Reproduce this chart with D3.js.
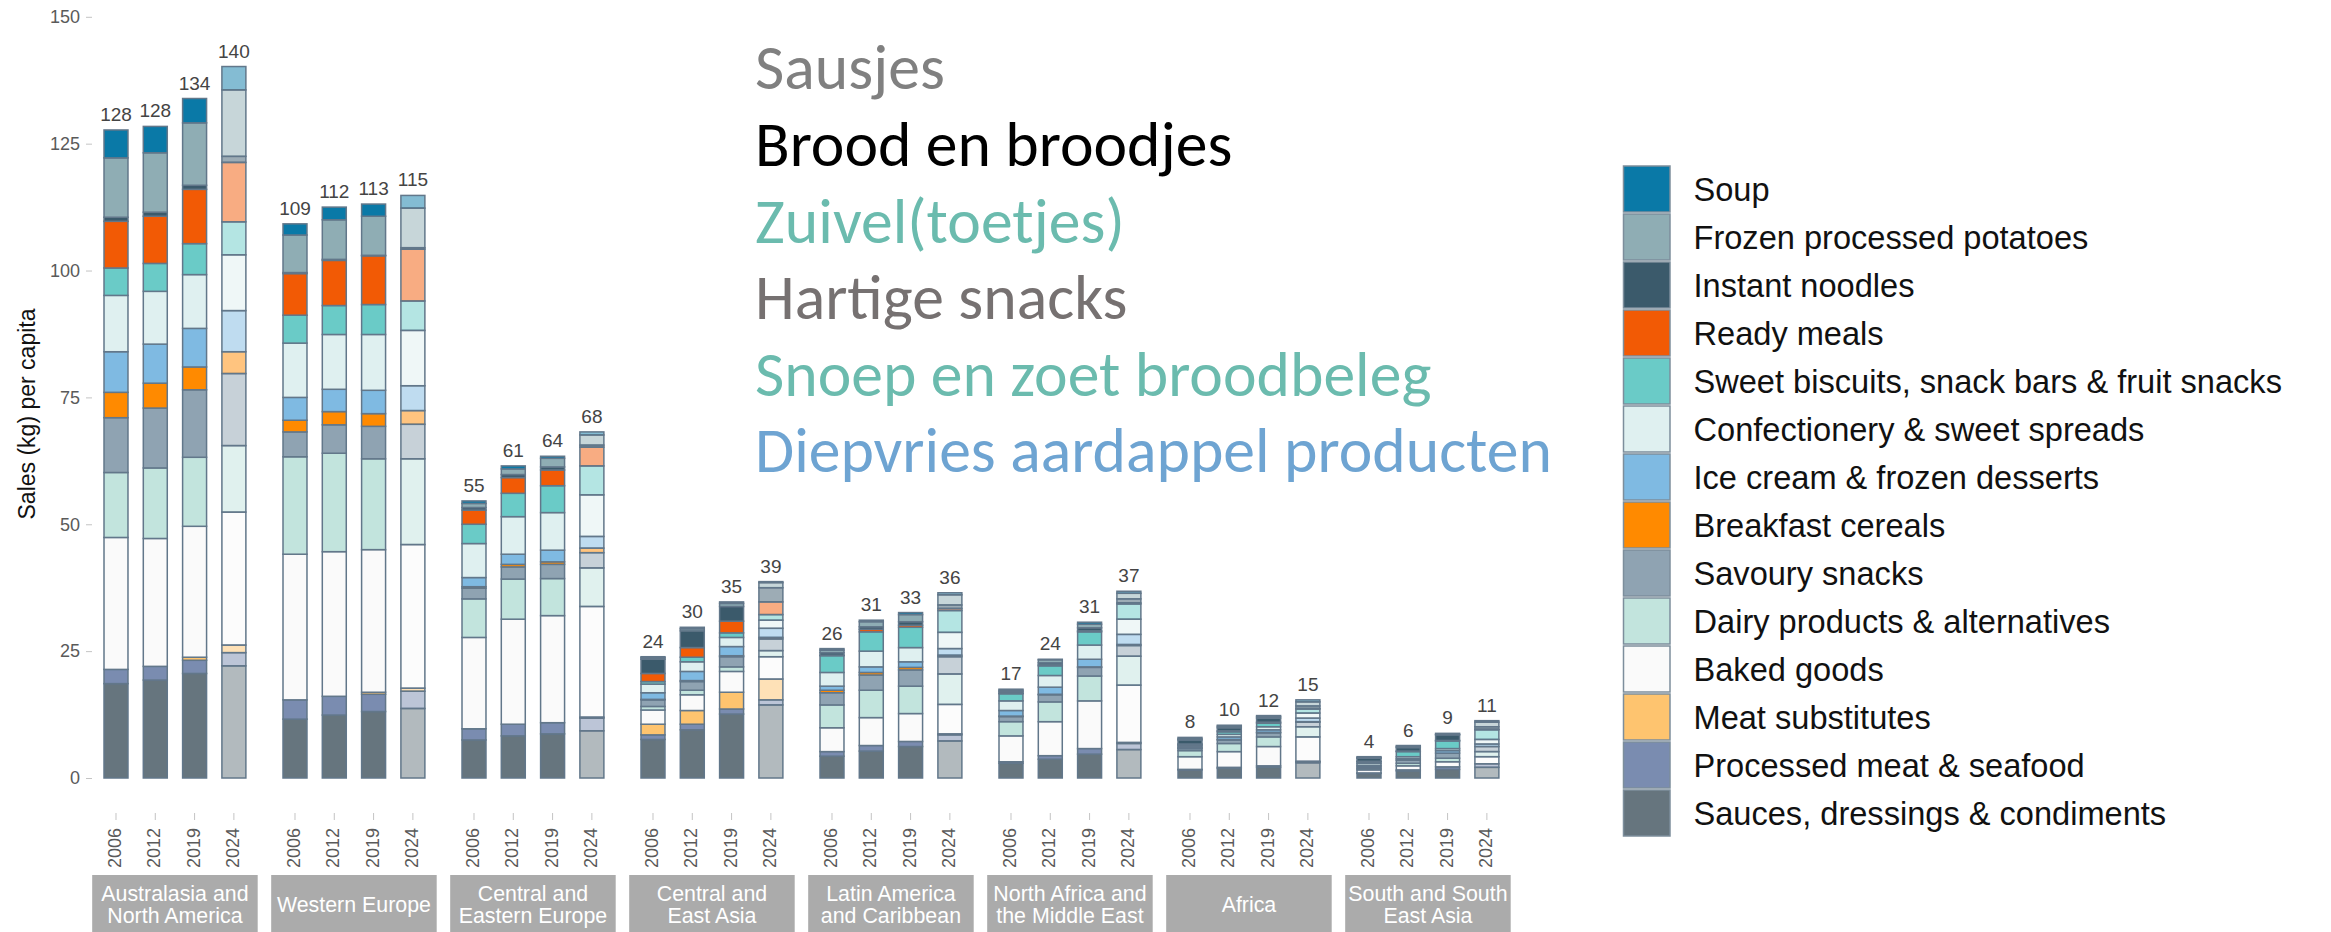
<!DOCTYPE html>
<html><head><meta charset="utf-8">
<script src="https://cdn.jsdelivr.net/npm/d3@7"></script>
<style>body{margin:0;background:#fff;} svg{display:block}</style>
</head><body><svg id="chart" width="2331" height="932"></svg>
<script>
// ---------------- DATA ----------------
const regions = ["Australasia and\nNorth America", "Western Europe", "Central and\nEastern Europe", "Central and\nEast Asia", "Latin America\nand Caribbean", "North Africa and\nthe Middle East", "Africa", "South and South\nEast Asia"];
const years = ["2006", "2012", "2019", "2024"];
const categories = ["Sauces, dressings & condiments", "Processed meat & seafood", "Meat substitutes", "Baked goods", "Dairy products & alternatives", "Savoury snacks", "Breakfast cereals", "Ice cream & frozen desserts", "Confectionery & sweet spreads", "Sweet biscuits, snack bars & fruit snacks", "Ready meals", "Instant noodles", "Frozen processed potatoes", "Soup"];
const categoryColors = ["#66757e", "#7a8cb0", "#fec46f", "#fafafa", "#c2e4dd", "#8fa3b2", "#ff8a00", "#7fbae2", "#dff0f0", "#6acbc7", "#f25a05", "#3b5a6b", "#8fadb4", "#0a79a7"];
// values per bar: regions in order, 4 years each (kg per capita)
const sauces        = [18.6,19.3,20.6,22.1, 11.6,12.4,13.1,13.7, 7.5,8.3,8.7,9.3, 7.6,9.5,12.6,14.4, 4.3,5.3,6.2,7.3, 2.9,3.7,4.7,5.6, 1.6,1.9,2.1,3.0, 0.9,1.4,1.7,2.1];
const processedMeat = [2.8,2.7,2.6,2.6, 3.8,3.7,3.4,3.4, 2.2,2.3,2.2,2.5, 0.9,1.1,1.0,1.0, 0.9,1.1,1.0,1.2, 0.3,0.7,1.1,1.2, 0.1,0.2,0.3,0.2, 0.1,0.2,0.5,0.7];
const meatSubstitutes = [0,0,0.6,1.5, 0,0,0.4,0.6, 0,0,0,0.2, 2.1,2.7,3.3,4.1, 0,0,0,0.2, 0,0,0,0.2, 0,0,0,0.1, 0,0,0,0];
const bakedGoods    = [26.0,25.2,25.8,26.2, 28.7,28.5,28.1,28.3, 18.0,20.7,21.1,21.8, 2.8,3.1,4.1,4.4, 4.7,5.5,5.5,5.8, 5.1,6.7,9.4,11.3, 2.5,3.1,3.8,4.8, 0.6,0.8,1.0,1.4];
const dairy         = [12.8,13.9,13.6,13.1, 19.2,19.4,17.9,16.9, 7.6,7.9,7.3,7.6, 0.7,0.9,0.9,1.2, 4.5,5.4,5.4,6.0, 2.8,3.9,4.9,5.7, 1.2,1.6,1.9,2.0, 0.3,0.5,0.7,1.0];
const savourySnacks = [10.8,11.8,13.3,14.2, 4.9,5.6,6.4,6.8, 2.1,2.4,2.8,3.0, 1.3,1.7,2.0,2.3, 2.4,3.0,3.2,3.4, 1.0,1.4,1.7,2.1, 0.4,0.7,0.8,0.9, 0.3,0.6,1.0,1.0];
const breakfastCereals = [5.0,4.9,4.5,4.3, 2.3,2.6,2.5,2.7, 0.3,0.5,0.5,0.9, 0.1,0.2,0.2,0.3, 0.5,0.5,0.5,0.3, 0.1,0.1,0.1,0.2, 0.1,0.1,0.1,0.1, 0,0,0,0];
const iceCream      = [8.0,7.7,7.6,8.1, 4.5,4.4,4.6,4.9, 1.8,2.0,2.3,2.3, 1.3,1.8,1.8,1.8, 0.8,1.1,1.1,1.3, 1.1,1.4,1.5,2.0, 0.2,0.5,0.5,0.7, 0.3,0.3,0.5,0.5];
const confectionery = [11.1,10.4,10.6,11.0, 10.7,10.8,11.0,10.9, 6.7,7.4,7.4,8.2, 1.7,1.9,1.8,1.6, 2.7,3.1,2.8,3.2, 1.9,2.3,2.8,3.0, 0.3,0.5,0.6,1.0, 0.4,0.4,0.4,0.9];
const sweetBiscuits = [5.4,5.5,6.1,6.5, 5.5,5.7,5.9,5.8, 3.8,4.6,5.3,5.7, 0.5,0.9,0.9,1.1, 3.3,3.8,4.0,4.3, 1.4,1.9,2.6,3.0, 0.2,0.5,0.7,0.8, 0.3,1.0,1.5,1.9];
const readyMeals    = [9.2,9.3,10.7,11.7, 8.2,8.9,9.6,10.2, 2.8,3.1,3.1,3.7, 1.6,1.9,2.3,2.5, 0.1,0.5,0.4,0.4, 0.1,0.2,0.2,0.2, 0.1,0.2,0.2,0.1, 0.1,0.1,0.1,0.1];
const instantNoodles = [0.8,0.8,0.8,1.2, 0.2,0.2,0.1,0.3, 0.5,0.6,0.6,0.4, 2.8,3.3,2.9,2.8, 0.5,0.5,0.7,0.7, 0.3,0.4,0.6,0.8, 0.8,0.6,0.8,0.5, 0.6,0.7,1.1,0.5];
const frozenPotatoes = [11.7,11.7,12.3,13.1, 7.4,7.8,7.7,7.8, 0.8,1.1,1.7,2.0, 0.3,0.4,0.6,1.0, 0.5,1.0,1.4,2.0, 0.3,0.6,0.7,1.1, 0.2,0.3,0.3,0.8, 0.1,0.2,0.1,0.9];
const soup          = [5.5,5.2,4.8,4.6, 2.2,2.5,2.4,2.5, 0.5,0.6,0.4,0.6, 0.2,0.3,0.3,0.2, 0.3,0.3,0.4,0.4, 0.2,0.1,0.4,0.4, 0.3,0.2,0.2,0.4, 0.2,0.2,0.2,0.3];
const totalLabels   = [128,128,134,140, 109,112,113,115, 55,61,64,68, 24,30,35,39, 26,31,33,36, 17,24,31,37, 8,10,12,15, 4,6,9,11];
const yTicks = [0, 25, 50, 75, 100, 125, 150];
const headlineLines = ["Sausjes", "Brood en broodjes", "Zuivel(toetjes)", "Hartige snacks", "Snoep en zoet broodbeleg", "Diepvries aardappel producten"];
const headlineColors = ["#808080", "#000000", "#6bbbae", "#767171", "#6bbbae", "#6ea4d2"];

const seriesArrays = [sauces, processedMeat, meatSubstitutes, bakedGoods, dairy, savourySnacks, breakfastCereals, iceCream, confectionery, sweetBiscuits, readyMeals, instantNoodles, frozenPotatoes, soup];

// --------------- TABLE ----------------
const rows = [];
regions.forEach((r, ri) => years.forEach((yr, yi) => {
  const i = ri * years.length + yi;
  const row = { region: r, year: yr, idx: i, total: totalLabels[i] };
  categories.forEach((c, ci) => row[c] = seriesArrays[ci][i]);
  rows.push(row);
}));

const svg = d3.select("#chart");
const FONT = "'Liberation Sans', Arial, Helvetica, sans-serif";

// --------------- SCALES ----------------
const y = d3.scaleLinear().domain([0, 150]).range([778, 16.8]);
const xOuter = d3.scaleBand().domain(regions).range([85.44, 85.44 + 8 * 179]).paddingInner(0.1218).paddingOuter(0.0609);
const xInner = d3.scaleBand().domain(years).range([0, xOuter.bandwidth()]).paddingInner(0.39).paddingOuter(0.195);
const color = d3.scaleOrdinal().domain(categories).range(categoryColors);

// --------------- Y AXIS ----------------
const yAxis = svg.append("g").attr("transform", "translate(92,0)")
  .call(d3.axisLeft(y).tickValues(yTicks).tickSize(6).tickPadding(6));
yAxis.select(".domain").remove();
yAxis.selectAll(".tick line").attr("stroke", "#c4c4c4");
yAxis.selectAll(".tick text").attr("fill", "#5a5a5a").style("font-family", FONT).style("font-size", "18px");

svg.append("text").attr("transform", "translate(35,414) rotate(-90)")
  .attr("text-anchor", "middle").style("font-family", FONT).style("font-size", "23px").attr("fill", "#111")
  .text("Sales (kg) per capita");

// --------------- BARS ----------------
const stack = d3.stack().keys(categories);
const stacked = stack(rows);
const barG = svg.append("g");
stacked.forEach(layer => {
  barG.selectAll(null).data(layer).join("rect")
    .attr("x", d => xOuter(d.data.region) + xInner(d.data.year))
    .attr("width", xInner.bandwidth())
    .attr("y", d => y(d[1]))
    .attr("height", d => Math.max(0, y(d[0]) - y(d[1])))
    .attr("fill", color(layer.key))
    .attr("fill-opacity", d => d.data.year === "2024" ? 0.5 : 1)
    .attr("stroke", "#62778a")
    .attr("stroke-width", 1.5)
    .attr("display", d => (d[1] - d[0]) > 0 ? null : "none");
});

// totals
svg.append("g").selectAll("text").data(rows).join("text")
  .attr("x", d => xOuter(d.region) + xInner(d.year) + xInner.bandwidth() / 2)
  .attr("y", d => y(d3.sum(categories, c => d[c])) - 9)
  .attr("text-anchor", "middle").style("font-family", FONT).style("font-size", "19px").attr("fill", "#444")
  .text(d => d.total);

// --------------- X AXIS (years) ----------------
const xa = svg.append("g");
xa.selectAll("line").data(rows).join("line")
  .attr("x1", d => xOuter(d.region) + xInner(d.year) + xInner.bandwidth() / 2)
  .attr("x2", d => xOuter(d.region) + xInner(d.year) + xInner.bandwidth() / 2)
  .attr("y1", 813).attr("y2", 820).attr("stroke", "#c4c4c4");
xa.selectAll("text").data(rows).join("text")
  .attr("transform", d => `translate(${xOuter(d.region) + xInner(d.year) + xInner.bandwidth() / 2 + 5},828) rotate(-90)`)
  .attr("text-anchor", "end").style("font-family", FONT).style("font-size", "18px").attr("fill", "#5a5a5a")
  .text(d => d.year);

// region strips
const strips = svg.append("g").selectAll("g").data(regions).join("g")
  .attr("transform", d => `translate(${xOuter(d) + xOuter.bandwidth() / 2},0)`);
strips.append("rect").attr("x", -82.75).attr("y", 875).attr("width", 165.5).attr("height", 57).attr("fill", "#ababab");
strips.each(function(d) {
  const lines = d.split("\n");
  const t = d3.select(this).append("text").attr("text-anchor", "middle").attr("fill", "#fff")
    .attr("transform", "scale(0.95,1)")
    .style("font-family", FONT).style("font-size", "22.5px");
  const cy = 904, lh = 22.5;
  lines.forEach((ln, i) => {
    t.append("tspan").attr("x", 0).attr("y", cy + (i - (lines.length - 1) / 2) * lh + 8).text(ln);
  });
});

// --------------- LEGEND ----------------
const legendOrder = categories.slice().reverse();
const lg = svg.append("g").selectAll("g").data(legendOrder).join("g")
  .attr("transform", (d, i) => `translate(1623.5,${166 + i * 48})`);
lg.append("rect").attr("width", 46.5).attr("height", 46).attr("fill", d => color(d))
  .attr("stroke", "#7d8e9c").attr("stroke-width", 1.5);
lg.append("text").attr("x", 70).attr("y", 23).attr("dy", "0.36em")
  .style("font-family", FONT).style("font-size", "32.6px").attr("fill", "#111").text(d => d);

// --------------- HEADLINE TEXT ----------------
const hl = svg.append("g").selectAll("text").data(headlineLines).join("text")
  .attr("x", 755).attr("y", (d, i) => 89.3 + i * 76.6)
  .style("font-family", "Carlito, Calibri, Lato, sans-serif").style("font-size", "60px")
  .attr("fill", (d, i) => headlineColors[i]).text(d => d);
// fit longest line to its measured width in the reference
const longest = hl.filter((d, i) => i === 5).node();
const w = longest.getComputedTextLength();
const fs = 60 * 797 / w;
hl.style("font-size", fs + "px");
</script></body></html>
